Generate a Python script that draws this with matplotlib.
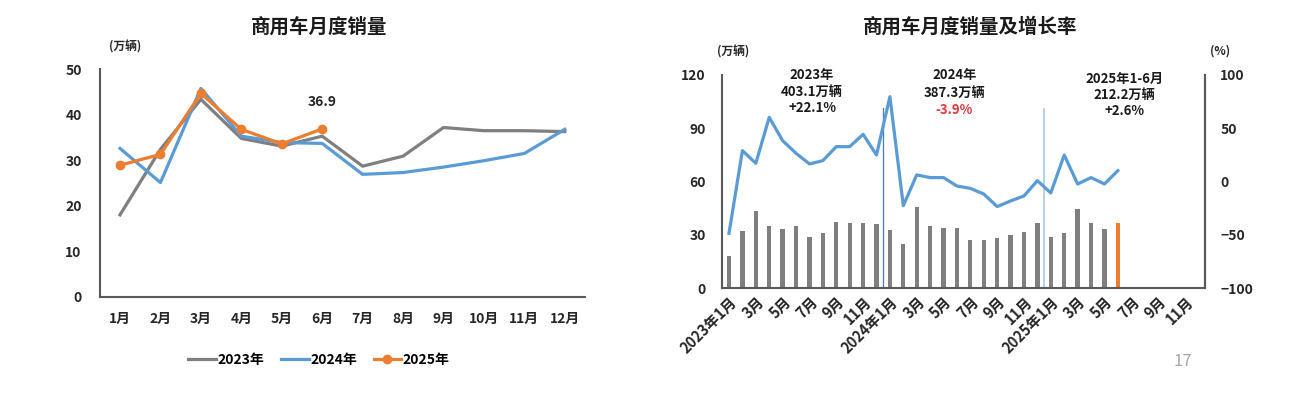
import matplotlib
matplotlib.use("Agg")
import matplotlib.pyplot as plt
import numpy as np

plt.rcParams['font.family'] = ['Noto Sans CJK SC', 'DejaVu Sans']
plt.rcParams['font.weight'] = 'bold'

# ---------------- data ----------------
months = ["1月", "2月", "3月", "4月", "5月", "6月", "7月", "8月", "9月", "10月", "11月", "12月"]
sales_2023 = [18.0, 32.4, 43.4, 34.8, 33.1, 35.3, 28.7, 30.9, 37.2, 36.5, 36.5, 36.3]
sales_2024 = [32.6, 25.1, 45.8, 35.3, 33.9, 33.7, 26.9, 27.3, 28.5, 29.9, 31.5, 36.8]
sales_2025 = [28.9, 31.3, 44.7, 36.8, 33.6, 36.9]

growth = [-48.4, 29.1, 17.2, 60.3, 38.4, 26.6, 16.6, 19.7, 32.8, 32.8, 44.4, 25.0,
          79.7, -22.5, 6.3, 3.8, 3.8, -4.1, -6.3, -11.6, -23.4, -18.1, -13.4, 0.9,
          -10.6, 25.0, -2.2, 3.8, -2.2, 10.3]

xtick_labels = ["2023年1月", "3月", "5月", "7月", "9月", "11月",
                "2024年1月", "3月", "5月", "7月", "9月", "11月",
                "2025年1月", "3月", "5月", "7月", "9月", "11月"]

year_notes = [("2023年", "403.1万辆", "+22.1%"),
              ("2024年", "387.3万辆", "-3.9%"),
              ("2025年1-6月", "212.2万辆", "+2.6%")]

GRAY = '#7f7f7f'
BLUE = '#5b9bd5'
ORANGE = '#ed7d31'
AXC = '#595959'

W, H = 1290, 398
fig = plt.figure(figsize=(W / 100, H / 100), dpi=100)

def frac_box(l, t, r, b):
    return [l / W, 1 - b / H, (r - l) / W, (b - t) / H]

# ---------------- left chart ----------------
ax1 = fig.add_axes(frac_box(99.8, 69.3, 585, 296.7))
x12 = np.arange(12)
l23, = ax1.plot(x12, sales_2023, color=GRAY, lw=2.3, label="2023年")
l24, = ax1.plot(x12, sales_2024, color=BLUE, lw=2.3, label="2024年")
l25, = ax1.plot(np.arange(len(sales_2025)), sales_2025, color=ORANGE, lw=2.3,
                marker='o', ms=6, label="2025年")
ax1.annotate(f"{sales_2025[-1]:.1f}", (len(sales_2025) - 1, sales_2025[-1]),
             xytext=(0, 14), textcoords='offset points', ha='center', va='bottom',
             fontsize=10, fontweight='bold', color='#262626')
ax1.set_xlim(-0.5, 11.5)
ax1.set_ylim(0, 50)
ax1.set_yticks(np.arange(0, 51, 10))
ax1.set_xticks(x12)
ax1.set_xticklabels(months)
for s in ['top', 'right']:
    ax1.spines[s].set_visible(False)
for s in ['left', 'bottom']:
    ax1.spines[s].set_color(AXC)
    ax1.spines[s].set_linewidth(1.5)
ax1.tick_params(axis='y', length=0, pad=13, labelsize=10, colors='#262626')
ax1.tick_params(axis='x', length=0, pad=11, labelsize=10, colors='#262626')
for lab in ax1.get_xticklabels() + ax1.get_yticklabels():
    lab.set_fontweight('bold')

fig.text(319 / W, 1 - 27 / H, "商用车月度销量", ha='center', va='center',
         fontsize=14, fontweight='bold', color='#1a1a1a')
fig.text(125 / W, 1 - 46.7 / H, "(万辆)", ha='center', va='center',
         fontsize=8.5, fontweight='bold', color='#262626')

fig.legend(handles=[l23, l24, l25], loc='center', bbox_to_anchor=(319 / W, 1 - 360 / H),
           ncol=3, frameon=False, prop={'size': 10, 'weight': 'bold'},
           handlelength=2.0, handletextpad=0.1, columnspacing=1.2)

# ---------------- right chart ----------------
ax2 = fig.add_axes(frac_box(722.3, 75, 1205, 288.3))
n_all = 36
xall = np.arange(n_all)
bar_vals = sales_2023 + sales_2024 + sales_2025
bar_colors = [GRAY] * (len(bar_vals) - 1) + [ORANGE]
ax2.bar(np.arange(len(bar_vals)), bar_vals, width=0.32, color=bar_colors)
ax2.set_xlim(-0.5, n_all - 0.5)
ax2.set_ylim(0, 120)
ax2.set_yticks(np.arange(0, 121, 30))
ax2.set_xticks(xall[::2])
ax2.set_xticklabels(xtick_labels, rotation=45, ha='right', rotation_mode='anchor')
ax2.tick_params(axis='y', length=0, pad=12, labelsize=10, colors='#262626')
ax2.tick_params(axis='x', length=0, pad=4, labelsize=10.5, colors='#262626')
ax2.spines['top'].set_visible(False)
for s in ['left', 'bottom', 'right']:
    ax2.spines[s].set_color(AXC)
    ax2.spines[s].set_linewidth(1.5)

# year separators
ax2.plot([11.5, 11.5], [0, 101.4], color='#4a7ab5', lw=0.9)
ax2.plot([23.5, 23.5], [0, 100.8], color='#a9c7e6', lw=1.2)

ax3 = ax2.twinx()
ax3.plot(np.arange(len(growth)), growth, color=BLUE, lw=2.3)
ax3.set_ylim(-100, 100)
ax3.set_yticks(np.arange(-100, 101, 50))
ax3.tick_params(axis='y', length=0, pad=11, labelsize=10, colors='#262626')
ax3.spines['top'].set_visible(False)
ax3.spines['right'].set_color(AXC)
ax3.spines['right'].set_linewidth(1.5)
ax3.spines['left'].set_visible(False)
ax3.spines['bottom'].set_visible(False)

for ax in (ax2, ax3):
    for lab in ax.get_xticklabels() + ax.get_yticklabels():
        lab.set_fontweight('bold')

note_x = [6.2, 16.8, 29.5]
note_y = [[120, 110.6, 101.2], [120, 110.0, 100.2], [117.7, 108.7, 99.7]]
for i, (lines, xx) in enumerate(zip(year_notes, note_x)):
    for j, t in enumerate(lines):
        col = '#1a1a1a'
        if j == 2 and t.startswith('-'):
            col = '#e0383c'
        ax2.text(xx, note_y[i][j], t, ha='center', va='center', fontsize=9.5,
                 fontweight='bold', color=col, zorder=5)

fig.text(970 / W, 1 - 27 / H, "商用车月度销量及增长率", ha='center', va='center',
         fontsize=14, fontweight='bold', color='#1a1a1a')
fig.text(733 / W, 1 - 51.5 / H, "(万辆)", ha='center', va='center',
         fontsize=8.5, fontweight='bold', color='#262626')
fig.text(1220 / W, 1 - 51 / H, "(%)", ha='center', va='center',
         fontsize=8.5, fontweight='bold', color='#262626')

fig.text(1183 / W, 1 - 361 / H, "17", ha='center', va='center',
         fontsize=12, fontweight='normal', color='#a6a6a6')

fig.savefig("out.png", dpi=100)
